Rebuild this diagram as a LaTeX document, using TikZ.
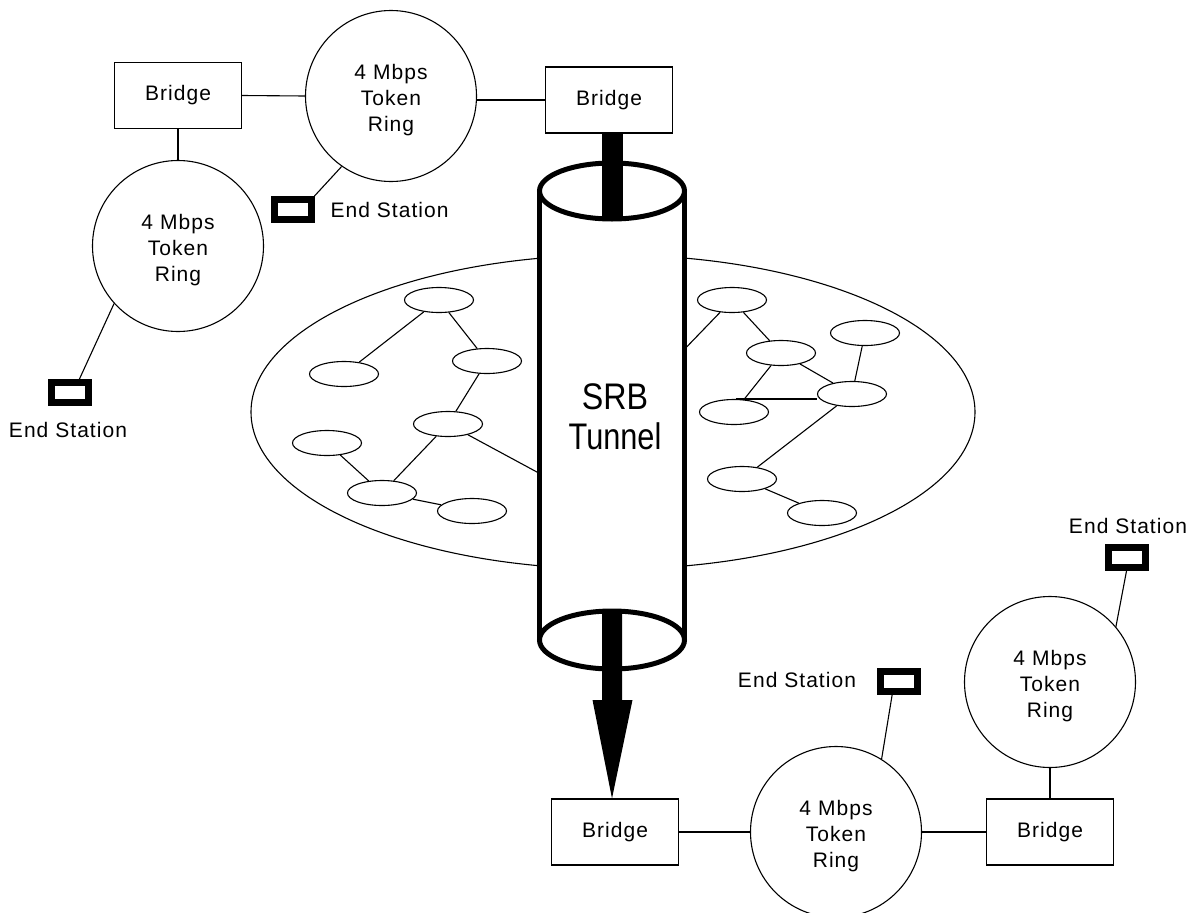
\documentclass[tikz,border=0pt]{standalone}
\usepackage{fontspec}
\setmainfont{Liberation Sans}
\newfontfamily\lblfont[LetterSpace=5]{Liberation Sans}
\usetikzlibrary{shapes.geometric}
\begin{document}
\begin{tikzpicture}[x=1pt,y=-1pt,line width=1.1pt,
  bridge/.style={draw,rectangle,fill=white,minimum width=127pt,minimum height=66pt,inner sep=0pt,font=\lblfont\fontsize{21}{26}\selectfont},
  ring/.style={draw,circle,fill=white,minimum size=171pt,inner sep=0pt,
    label={[align=center,yshift=-4pt,inner sep=0pt,font=\lblfont\fontsize{21}{26}\selectfont]center:4 Mbps\\Token\\Ring}},
  endst/.style={draw,rectangle,fill=white,line width=7pt,minimum width=37pt,minimum height=20pt,inner sep=0pt},
  lbl/.style={font=\lblfont\fontsize{21}{26}\selectfont,inner sep=0pt},
  lan/.style={draw,ellipse,fill=white,minimum width=69pt,minimum height=25pt,inner sep=0pt},
  tube/.style={line width=5pt},
  bigtext/.style={align=center,font=\fontsize{37}{40}\selectfont,inner sep=0pt}]
\useasboundingbox (0,0) rectangle (1197,913);

% network cloud
\node[draw,ellipse,minimum width=724pt,minimum height=314pt,inner sep=0pt] (net) at (613,412) {};

% left LAN nodes
\node[lan] (e1) at (439,300) {};
\node[lan] (e2) at (344,374) {};
\node[lan] (e3) at (487,361) {};
\node[lan] (e4) at (448,424) {};
\node[lan] (e5) at (327,443) {};
\node[lan] (e6) at (382,493) {};
\node[lan] (e7) at (472,511) {};
% right LAN nodes
\node[lan] (f1) at (732,300) {};
\node[lan] (f2) at (781,353) {};
\node[lan] (f3) at (865,333) {};
\node[lan] (f4) at (852,394) {};
\node[lan] (f5) at (734,412) {};
\node[lan] (f6) at (742,479) {};
\node[lan] (f7) at (822,513) {};

\coordinate (e4c) at (548,478);
\coordinate (f1c) at (676,358);
\draw (e1) -- (e2);
\draw (e1) -- (e3);
\draw (e3) -- (e4);
\draw (e4) -- (e6);
\draw (e5) -- (e6);
\draw (e6) -- (e7);
\draw (e4) -- (e4c);
\draw (f1) -- (f1c);
\draw (f1) -- (f2);
\draw (f2) -- (f5);
\draw (f2) -- (f4);
\draw (f3) -- (f4);
\draw (f5.80) -- (f5.80 -| f4.west);
\draw (f4) -- (f6);
\draw (f6) -- (f7);

% tunnel cylinder
\coordinate (ctop) at (612,191);
\coordinate (cfront) at (612,219);
\coordinate (cbot) at (612,640);
\fill[white] (539.5,191) rectangle (684.5,640);
\fill[white] (cbot) ellipse [x radius=72.5, y radius=29];
\draw[tube] (539.5,191) -- (539.5,640);
\draw[tube] (684.5,191) -- (684.5,640);
\draw[tube] (ctop) ellipse [x radius=72.5, y radius=28];
\draw[tube] (cbot) ellipse [x radius=72.5, y radius=29];
\node[bigtext] (srb) at (615,417) {\scalebox{0.87}[1]{SRB}\\\scalebox{0.83}[1]{Tunnel}};

% rings and bridges
\node[bridge] (br1) at (178,95.5) {Bridge};
\node[ring] (r1) at (391,96) {};
\node[ring] (r2) at (178,246) {};
\node[bridge] (br2) at (609,100) {Bridge};
\node[bridge] (br3) at (615,832) {Bridge};
\node[ring] (r3) at (836,832) {};
\node[bridge] (br4) at (1050,832) {Bridge};
\node[ring] (r4) at (1050,682) {};

% end stations
\node[endst] (es1) at (292.5,209.5) {};
\node[endst] (es2) at (70,392.5) {};
\node[endst] (es3) at (898.5,681) {};
\node[endst] (es4) at (1126.5,557.5) {};
\node[lbl,anchor=west] (l1) at (330,210) {End Station};
\node[lbl] (l2) at (68,430) {End Station};
\node[lbl] (l3) at (797,680) {End Station};
\node[lbl] (l4) at (1128,526) {End Station};

% connectors
\draw (br1.east) -- (r1.west);
\draw (br1.south) -- (r2.north);
\draw (br2.west) -- (r1.east |- br2.west);
\draw (r1.235) -- (es1.north east);
\draw (r2.222) -- (es2.55);
\draw (br3.east) -- (r3.west);
\draw (r3.east) -- (br4.west);
\draw (r4.south) -- (br4.north);
\draw (r3.58) -- (es3.-115);
\draw (r4.40) -- (es4.south);

% thick bar into tunnel and arrow out of it
\draw[line width=21pt] (br2.south -| ctop) -- (cfront);
\coordinate (atip) at (br3.north -| cbot);
\fill (602,609) -- (602,700) -- (592.5,700) -- (atip) -- (632.5,700) -- (622,700) -- (622,609) -- cycle;
\end{tikzpicture}
\end{document}
